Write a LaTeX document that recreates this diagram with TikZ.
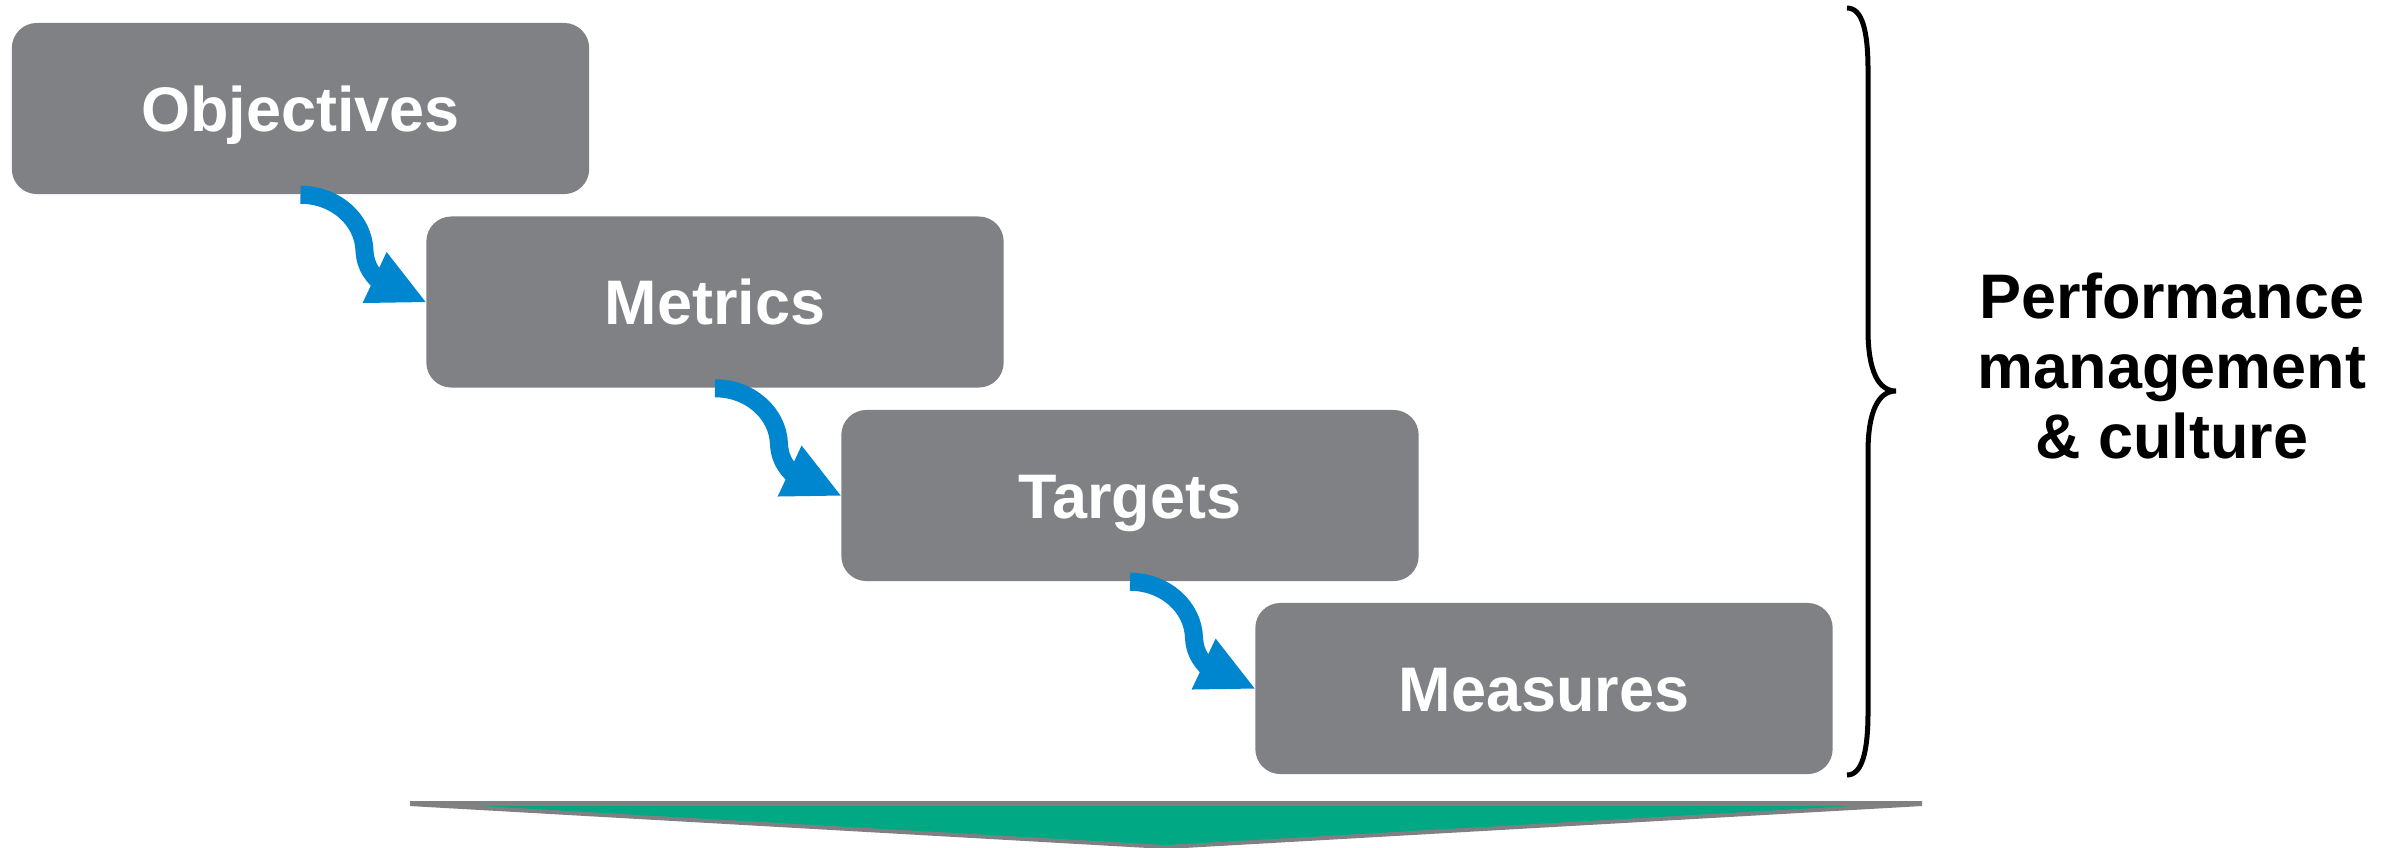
\documentclass[tikz,border=0pt]{standalone}
\usepackage{fontspec}
\setmainfont{Liberation Sans}
\definecolor{boxgray}{HTML}{808184}
\definecolor{flowblue}{HTML}{0085CF}
\definecolor{funnelgreen}{HTML}{00A884}
\definecolor{funnelgray}{HTML}{808083}
\begin{document}
\begin{tikzpicture}[x=0.01cm,y=0.01cm]
\tikzstyle{every node}+=[inner sep=0pt]
\tikzstyle{box}=[rectangle, rounded corners=0.25cm, fill=boxgray, text=white, minimum width=5.77cm, minimum height=1.71cm, text height=12.8pt, text depth=0pt, font=\fontsize{17.9pt}{20.5pt}\selectfont\bfseries]
\tikzstyle{shaft}=[draw=flowblue, line width=0.18cm]
\tikzstyle{head}=[fill=flowblue]
\useasboundingbox (0,0) rectangle (2397,-847);
% the four steps
\node [box] (obj) at (300.5,-108.5) {Objectives};
\node [box] (met) at (715,-302) {Metrics};
\node [box] (tar) at (1130,-495.5) {Targets};
\node [box] (mea) at (1544,-688.5) {Measures};
% curved arrows between the steps
\draw [shaft] (obj.south) .. controls +(35,0) and +(-1,31) .. ++(64,-56) .. controls +(1,-18) and +(-9,9) .. ++(19,-35);
\fill [head] (met.west) -- ++(-63,-1) -- ++(24,51) -- cycle;
\draw [shaft] (met.south) .. controls +(35,0) and +(-1,31) .. ++(64,-56) .. controls +(1,-18) and +(-9,9) .. ++(19,-35);
\fill [head] (tar.west) -- ++(-63,-1) -- ++(24,51) -- cycle;
\draw [shaft] (tar.south) .. controls +(35,0) and +(-1,31) .. ++(64,-56) .. controls +(1,-18) and +(-9,9) .. ++(19,-35);
\fill [head] (mea.west) -- ++(-63,-1) -- ++(24,51) -- cycle;
% brace and its label
\draw [black, line width=0.05cm] (1847,-8) .. controls (1862,-8) and (1868,-30) .. (1868,-70) -- (1868,-330) .. controls (1868,-370) and (1878,-391) .. (1896,-391) .. controls (1878,-391) and (1868,-412) .. (1868,-452) -- (1868,-712) .. controls (1868,-752) and (1862,-775) .. (1847,-775);
\node [align=center, font=\fontsize{17.9pt}{19.8pt}\selectfont\bfseries] (perf) at (2172,-366) {Performance\\management\\\& culture};
% funnel at the bottom
\fill [funnelgray] (410,-801) -- (1922,-801) -- (1922,-806) -- (1166,-849) -- (410,-806) -- cycle;
\fill [funnelgreen] (482,-806) -- (1850,-806) -- (1166,-845) -- cycle;
\end{tikzpicture}
\end{document}
